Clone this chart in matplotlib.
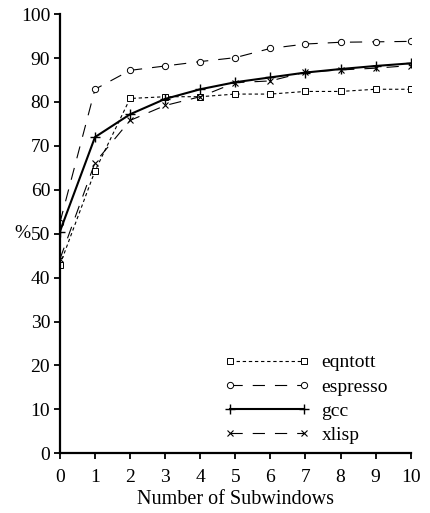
import matplotlib
matplotlib.use('Agg')
import matplotlib.pyplot as plt
import numpy as np

plt.rcParams['font.family'] = ['Liberation Serif', 'DejaVu Serif']

subwindows = np.arange(0, 11)
eqntott = [42.9, 64.3, 80.8, 81.2, 81.2, 81.8, 81.8, 82.4, 82.4, 82.9, 82.9]
espresso = [52.5, 82.9, 87.2, 88.2, 89.2, 90.1, 92.2, 93.2, 93.6, 93.7, 93.8]
gcc = [50.5, 72.0, 77.2, 80.7, 82.9, 84.5, 85.6, 86.7, 87.5, 88.2, 88.8]
xlisp = [44.2, 66.2, 75.8, 79.2, 81.2, 84.4, 84.8, 86.8, 87.3, 87.7, 88.3]

fig = plt.figure(figsize=(4.31, 5.13), dpi=100)
ax = fig.add_axes([0.139, 0.1164, 0.814, 0.856])

ax.plot(subwindows, eqntott, color='black', lw=0.8, dashes=(3, 2.5),
        marker='s', ms=4.5, mfc='white', mew=0.7, label='eqntott')
ax.plot(subwindows, espresso, color='black', lw=0.8, dashes=(11, 9),
        marker='o', ms=4.5, mfc='white', mew=0.7, label='espresso')
ax.plot(subwindows, gcc, color='black', lw=1.5,
        marker='+', ms=7, mew=1.0, label='gcc')
ax.plot(subwindows, xlisp, color='black', lw=0.8, dashes=(11, 9),
        marker='x', ms=5, mew=0.8, label='xlisp')

ax.set_xlim(0, 10)
ax.set_ylim(0, 100)
ax.set_xticks(range(0, 11))
ax.set_yticks(range(0, 101, 10))
ax.spines['top'].set_visible(False)
ax.spines['right'].set_visible(False)
ax.spines['left'].set_linewidth(1.6)
ax.spines['bottom'].set_linewidth(1.6)
ax.tick_params(direction='out', length=4, width=1.3, labelsize=14)
ax.tick_params(axis='x', pad=7)
ax.tick_params(axis='y', pad=3)

ax.set_xlabel('Number of Subwindows', fontsize=14.5, labelpad=3)
ax.set_ylabel('%', fontsize=14, rotation=0, va='center', ha='right')
ax.yaxis.set_label_coords(-0.085, 0.5)

ax.legend(loc='lower right', bbox_to_anchor=(0.963, 0.0), frameon=False,
          fontsize=14, handlelength=4.4, numpoints=2, labelspacing=0.33,
          handletextpad=0.6, borderpad=0)

fig.savefig('out.png', dpi=100)
